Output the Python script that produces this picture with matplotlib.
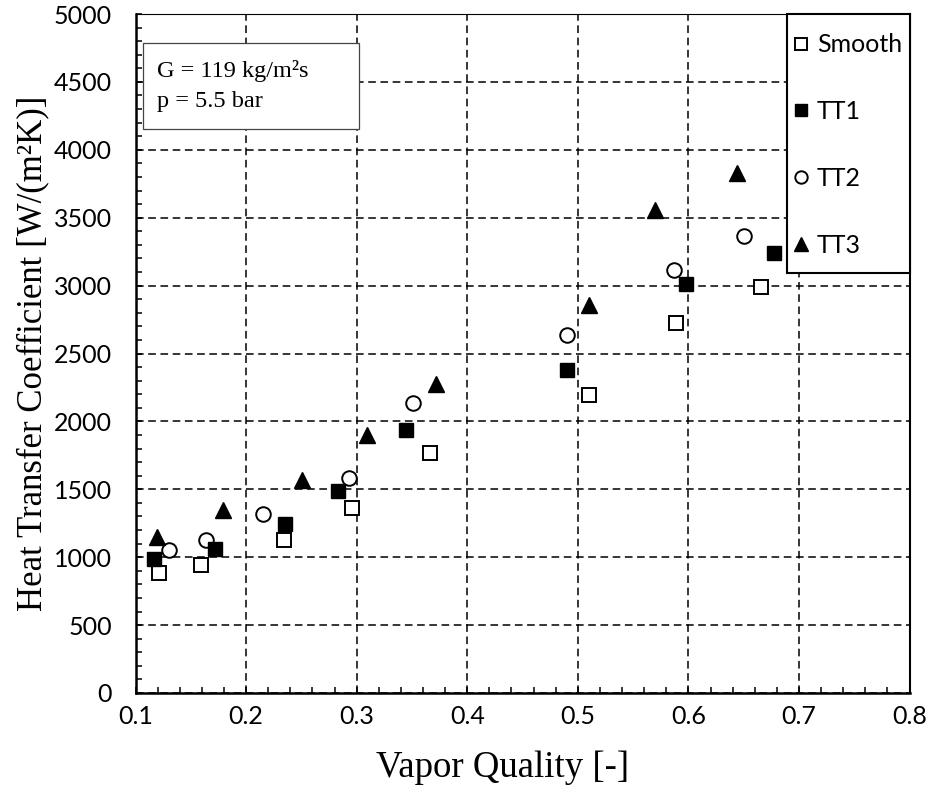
import matplotlib
matplotlib.use("Agg")
import matplotlib.pyplot as plt
from matplotlib.patches import Rectangle
from matplotlib.ticker import MultipleLocator

# vapor quality / heat transfer coefficient for each tube
smooth_x = [0.121, 0.159, 0.234, 0.296, 0.366, 0.510, 0.589, 0.666]
smooth_y = [880, 940, 1125, 1360, 1765, 2195, 2725, 2990]

tt1_x = [0.117, 0.172, 0.235, 0.283, 0.345, 0.490, 0.598, 0.677]
tt1_y = [990, 1060, 1245, 1485, 1937, 2380, 3015, 3240]

tt2_x = [0.130, 0.164, 0.215, 0.293, 0.351, 0.490, 0.587, 0.650]
tt2_y = [1055, 1130, 1315, 1580, 2135, 2635, 3115, 3365]

tt3_x = [0.119, 0.179, 0.251, 0.309, 0.372, 0.510, 0.570, 0.644]
tt3_y = [1150, 1350, 1565, 1900, 2275, 2855, 3555, 3830]

x_ticks = [0.1, 0.2, 0.3, 0.4, 0.5, 0.6, 0.7, 0.8]
y_ticks = [0, 500, 1000, 1500, 2000, 2500, 3000, 3500, 4000, 4500, 5000]

sans = ['Lato', 'DejaVu Sans']
serif = ['Liberation Serif', 'DejaVu Serif']

fig = plt.figure(figsize=(9.32, 7.96), dpi=100)
ax = fig.add_axes([0.1454, 0.1294, 0.8305, 0.8530])

ax.set_xlim(0.1, 0.8)
ax.set_ylim(0, 5000)
ax.set_xticks(x_ticks)
ax.set_yticks(y_ticks)
ax.set_xticklabels([f"{v:.1f}" for v in x_ticks])
ax.set_yticklabels([str(v) for v in y_ticks])
ax.xaxis.set_minor_locator(MultipleLocator(0.02))
ax.yaxis.set_minor_locator(MultipleLocator(100))

ax.grid(True, which='major', color='black', linestyle=(0, (5, 3)), linewidth=1.1, zorder=0)
ax.set_axisbelow(True)

ax.tick_params(which='both', direction='in', length=4.3, width=1.1, top=False, right=False)
ax.tick_params(axis='x', which='major', pad=9, labelsize=18)
ax.tick_params(axis='y', which='major', pad=17, labelsize=18)
for lbl in ax.get_xticklabels() + ax.get_yticklabels():
    lbl.set_family(sans)

ax.spines['left'].set_linewidth(1.8)
ax.spines['bottom'].set_linewidth(1.8)
ax.spines['right'].set_linewidth(1.5)
ax.spines['top'].set_linewidth(0.8)

ms = 10.5
h_smooth, = ax.plot(smooth_x, smooth_y, linestyle='none', marker='s', ms=ms,
                    mfc='white', mec='black', mew=1.4, zorder=3, label='Smooth')
h_tt2, = ax.plot(tt2_x, tt2_y, linestyle='none', marker='o', ms=ms,
                 mfc='white', mec='black', mew=1.4, zorder=3, label='TT2')
h_tt1, = ax.plot(tt1_x, tt1_y, linestyle='none', marker='s', ms=ms,
                 mfc='black', mec='black', mew=1.0, zorder=3, label='TT1')
h_tt3, = ax.plot(tt3_x, tt3_y, linestyle='none', marker='^', ms=11.5,
                 mfc='black', mec='black', mew=1.0, zorder=3, label='TT3')

# legend frame drawn separately so the entries can sit tight against its right edge
ax.add_patch(Rectangle((0.8417, 0.6186), 0.1583, 0.3814, transform=ax.transAxes,
                       facecolor='white', edgecolor='black', linewidth=1.5,
                       zorder=4, clip_on=False))
leg = ax.legend(handles=[h_smooth, h_tt1, h_tt2, h_tt3], loc='upper left',
                bbox_to_anchor=(0.8482, 0.9714), borderaxespad=0, frameon=False,
                prop={'family': sans, 'size': 18}, labelspacing=1.75,
                handlelength=0.7, handletextpad=0.3, borderpad=0, markerscale=0.85)
leg.set_zorder(5)

# conditions box
ax.add_patch(Rectangle((0.0097, 0.8306), 0.279, 0.1267, transform=ax.transAxes,
                       facecolor='white', edgecolor='#444444', linewidth=0.9, zorder=4))
ax.text(0.0278, 0.907, "G = 119 kg/m²s", transform=ax.transAxes, va='baseline',
        ha='left', family=serif, fontsize=17.5, zorder=5)
ax.text(0.0278, 0.863, "p = 5.5 bar", transform=ax.transAxes, va='baseline',
        ha='left', family=serif, fontsize=17.5, zorder=5)

ax.set_xlabel('Vapor Quality [-]', family=serif, fontsize=26.5)
ax.set_ylabel('Heat Transfer Coefficient [W/(m²K)]', family=serif, fontsize=25)
ax.xaxis.set_label_coords(0.474, -0.085)
ax.yaxis.set_label_coords(-0.112, 0.5)

fig.savefig('out.png', dpi=100)
